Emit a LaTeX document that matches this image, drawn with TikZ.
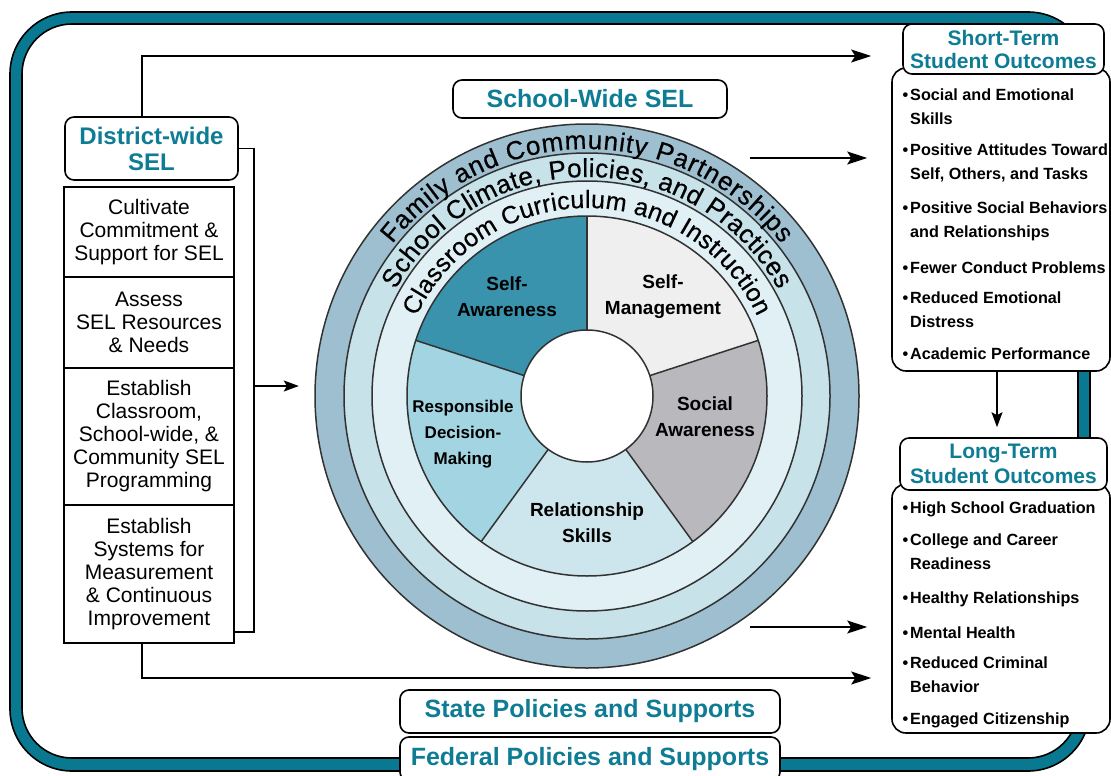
\documentclass[tikz,border=0pt]{standalone}
\usepackage{fontspec}
\setmainfont{Liberation Sans}
\newfontfamily\ringfam{Liberation Sans}[FakeBold=0.5]
\usetikzlibrary{arrows.meta,decorations.text,calc}

\definecolor{frameteal}{RGB}{8,121,145}
\definecolor{txteal}{RGB}{14,124,148}
\definecolor{ringA}{RGB}{158,191,207}
\definecolor{ringB}{RGB}{200,226,234}
\definecolor{ringC}{RGB}{225,240,245}
\definecolor{segSA}{RGB}{58,147,173}
\definecolor{segSM}{RGB}{239,239,239}
\definecolor{segSO}{RGB}{185,184,189}
\definecolor{segRS}{RGB}{205,229,237}
\definecolor{segRD}{RGB}{162,212,226}
\definecolor{ringline}{RGB}{50,50,50}

\newcommand\ringfontA{\ringfam\fontsize{26}{26}\selectfont}
\newcommand\ringfontB{\ringfam\fontsize{25}{25}\selectfont}
\newcommand\bitem[1]{\llap{\textbullet\hskip2pt}\parbox[t]{240pt}{\raggedright #1}}

\tikzset{
 bx/.style={draw=black, line width=1.6pt, fill=white, inner sep=0pt, align=center},
 rbx/.style={bx, rounded corners=9pt},
 hdr/.style={rbx, text=txteal, font=\bfseries\fontsize{21}{23}\selectfont},
 stepbox/.style={bx, font=\fontsize{21}{23}\selectfont, minimum width=170pt},
 conn/.style={line width=1.6pt, draw=black},
 arr/.style={conn, -{Stealth[length=20pt,width=13pt,inset=4pt]}},
 arrsmall/.style={conn, -{Stealth[length=15pt,width=11pt,inset=3pt]}},
 seglabel/.style={font=\bfseries\fontsize{19}{26}\selectfont, align=center, inner sep=0pt},
 ring/.style={draw=ringline, line width=1.5pt},
 outitem/.style={anchor=base west, inner sep=0pt, font=\bfseries\fontsize{16.2}{24.5}\selectfont},
 ringtext/.style 2 args={decorate, decoration={text along path, text align={fit to path}, text={|#1|#2}}},
}

\begin{document}
\begin{tikzpicture}[x=1pt,y=1pt]
\useasboundingbox (0,0) rectangle (1111,-776);

% outer teal frame
\draw[line width=1.6pt, fill=frameteal, rounded corners=62pt] (10,-12) rectangle (1090,-771);
\draw[line width=1.6pt, fill=white, rounded corners=50pt] (22,-24) rectangle (1078,-758);

% wheel
\coordinate (wc) at (587,-396);
\begin{scope}[shift={(wc)}]
 \draw[ring, fill=ringA] (0,0) circle[radius=272];
 \draw[ring, fill=ringB] (0,0) circle[radius=243];
 \draw[ring, fill=ringC] (0,0) circle[radius=215];
 \fill[segSA] (0,0) -- (90:180) arc[start angle=90,end angle=162,radius=180] -- cycle;
 \fill[segRD] (0,0) -- (162:180) arc[start angle=162,end angle=234,radius=180] -- cycle;
 \fill[segRS] (0,0) -- (234:180) arc[start angle=234,end angle=306,radius=180] -- cycle;
 \fill[segSO] (0,0) -- (306:180) arc[start angle=306,end angle=378,radius=180] -- cycle;
 \fill[segSM] (0,0) -- (18:180) arc[start angle=18,end angle=90,radius=180] -- cycle;
 \foreach \a in {18,90,162,234,306} \draw[ring] (0,0) -- (\a:180);
 \draw[ring] (0,0) circle[radius=180];
 \draw[ring, fill=white] (0,0) circle[radius=66];
 \path[ringtext={\ringfontA}{Family and Community Partnerships}] (142:247) arc[start angle=142, end angle=38, radius=247];
 \path[ringtext={\ringfontA}{School Climate, Policies, and Practices}] (151:219) arc[start angle=151, end angle=29, radius=219];
 \path[ringtext={\ringfontB}{Classroom Curriculum and Instruction}] (155:188) arc[start angle=155, end angle=25, radius=188];
\end{scope}
\node[circle, minimum size=544pt, inner sep=0pt] (wheel) at (wc) {};

% segment labels
\node[seglabel] (lSA) at (507,-297) {Self-\\Awareness};
\node[seglabel] (lSM) at (663,-297) {Self-\\Management};
\node[seglabel] (lSO) at (705,-417) {Social\\Awareness};
\node[seglabel] (lRS) at (587,-523) {Relationship\\Skills};
\node[seglabel, font=\bfseries\fontsize{17}{26}\selectfont] (lRD) at (463,-434) {Responsible\\Decision-\\Making};

% district-wide column
\node[hdr, minimum width=173pt, minimum height=63pt, font=\bfseries\fontsize{24}{26}\selectfont] (dist) at (151.5,-148.5) {District-wide\\SEL};
\coordinate (brk) at (254,-632);
\coordinate (brkm) at (254,-386);
\node[stepbox, minimum height=90pt] (s1) at (149,-232) {Cultivate\\Commitment \&\\Support for SEL};
\node[stepbox, minimum height=91pt] (s2) at (149,-322.5) {Assess\\SEL Resources\\\& Needs};
\node[stepbox, minimum height=137pt] (s3) at (149,-436.5) {Establish\\Classroom,\\School-wide, \&\\Community SEL\\Programming};
\node[stepbox, minimum height=138pt] (s4) at (149,-574) {Establish\\Systems for\\Measurement\\\& Continuous\\Improvement};

% right outcome boxes
\node[rbx, rounded corners=14pt, minimum width=218pt, minimum height=303pt] (shortbody) at (1001,-219.5) {};
\node[hdr, minimum width=201pt, minimum height=50pt] (shorthead) at (1003.5,-49) {Short-Term\\Student Outcomes};
\node[rbx, rounded corners=14pt, minimum width=218pt, minimum height=249pt] (longbody) at (1001,-608.5) {};
\node[hdr, minimum width=207pt, minimum height=52pt, font=\bfseries\fontsize{21}{25}\selectfont] (longhead) at (1003.5,-464) {Long-Term\\Student Outcomes};

\node[outitem] (o1) at (910,-100) {\bitem{Social and Emotional\\Skills}};
\node[outitem] (o2) at (910,-155) {\bitem{Positive Attitudes Toward\\Self, Others, and Tasks}};
\node[outitem] (o3) at (910,-213) {\bitem{Positive Social Behaviors\\and Relationships}};
\node[outitem] (o4) at (910,-273) {\bitem{Fewer Conduct Problems}};
\node[outitem] (o5) at (910,-303) {\bitem{Reduced Emotional\\Distress}};
\node[outitem] (o6) at (910,-359) {\bitem{Academic Performance}};

\node[outitem] (p1) at (910,-513) {\bitem{High School Graduation}};
\node[outitem] (p2) at (910,-545) {\bitem{College and Career\\Readiness}};
\node[outitem] (p3) at (910,-603) {\bitem{Healthy Relationships}};
\node[outitem] (p4) at (910,-638) {\bitem{Mental Health}};
\node[outitem] (p5) at (910,-668) {\bitem{Reduced Criminal\\Behavior}};
\node[outitem] (p6) at (910,-724) {\bitem{Engaged Citizenship}};

% school-wide and policy boxes
\node[rbx, text=txteal, font=\bfseries\fontsize{25}{28}\selectfont, minimum width=274pt, minimum height=38pt] (schoolwide) at (590,-99) {School-Wide SEL};
\node[rbx, text=txteal, font=\bfseries\fontsize{25}{28}\selectfont, minimum width=380pt, minimum height=43pt] (state) at (590,-711.5) {State Policies and Supports};
\node[rbx, text=txteal, font=\bfseries\fontsize{25}{28}\selectfont, minimum width=380pt, minimum height=44pt] (federal) at (590,-759) {Federal Policies and Supports};

% connectors
\coordinate (tl) at (142,-56);
\coordinate (bl) at (142,-678);
\coordinate (m1) at (750,-158);
\coordinate (m2) at (750,-627);
\coordinate (dc) at (997,0);
\draw[conn] (dist.east) -| (brk) -- (brk -| s4.east);
\draw[arrsmall] (brkm) -- ([xshift=-16pt]wheel.west |- brkm);
\draw[arr] (dist.north -| tl) |- ([xshift=-20pt]shortbody.west |- tl);
\draw[arr] (s4.south -| bl) |- ([xshift=-20pt]longbody.west |- bl);
\draw[arr] (m1) -- ([xshift=-24pt]shortbody.west |- m1);
\draw[arr] (m2) -- ([xshift=-24pt]longbody.west |- m2);
\draw[arrsmall] (shortbody.south -| dc) -- ([yshift=10pt]longhead.north -| dc);
\end{tikzpicture}
\end{document}
